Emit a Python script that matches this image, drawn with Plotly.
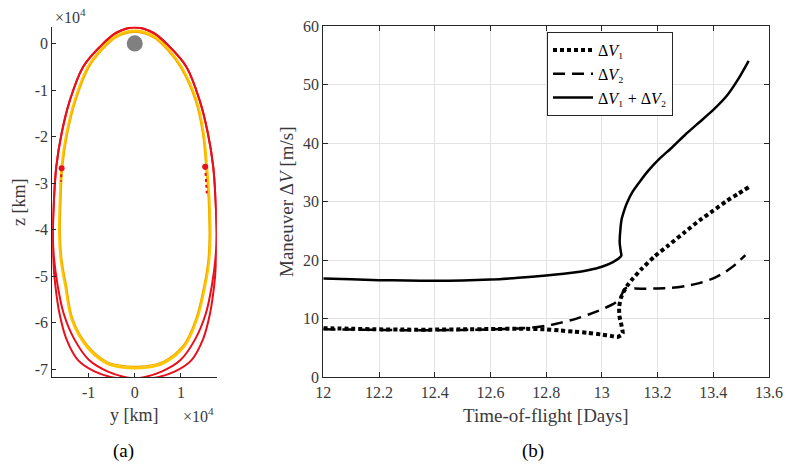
import plotly.graph_objects as go

# ---------------- panel (b) data ----------------
tof_dv1 = [12.0, 12.1, 12.2, 12.3, 12.4, 12.5, 12.6, 12.7, 12.8, 12.85, 12.9, 12.95, 13.0, 13.03,
           13.055, 13.07, 13.075, 13.07, 13.063, 13.062, 13.068, 13.078, 13.09, 13.11, 13.14,
           13.19, 13.24, 13.30, 13.35, 13.40, 13.45, 13.49, 13.527]
dv1 = [8.4, 8.3, 8.2, 8.15, 8.15, 8.2, 8.25, 8.3, 8.2, 8.0, 7.8, 7.6, 7.3, 7.1,
       6.9, 7.2, 7.6, 9.0, 10.5, 12.0, 13.5, 14.6, 15.6, 16.8, 18.4,
       20.7, 22.6, 24.9, 26.8, 28.5, 30.2, 31.4, 32.5]

tof_dv2 = [12.0, 12.1, 12.2, 12.3, 12.4, 12.5, 12.6, 12.7, 12.75, 12.8, 12.85, 12.9, 12.95,
           13.0, 13.04, 13.06, 13.072, 13.08, 13.09, 13.12, 13.16, 13.2, 13.25, 13.3, 13.35,
           13.4, 13.44, 13.48, 13.515]
dv2 = [8.2, 8.15, 8.1, 8.05, 8.05, 8.1, 8.2, 8.35, 8.5, 8.8, 9.3, 9.9, 10.7,
       11.6, 12.5, 13.2, 14.2, 15.0, 15.3, 15.2, 15.15, 15.2, 15.3, 15.6, 16.1,
       16.9, 17.9, 19.3, 20.9]

tof_tot = [12.0, 12.1, 12.2, 12.3, 12.4, 12.5, 12.6, 12.7, 12.8, 12.9, 12.95, 13.0, 13.04,
           13.06, 13.07, 13.068, 13.064, 13.066, 13.071, 13.08, 13.09, 13.11, 13.14, 13.17,
           13.21, 13.25, 13.30, 13.35, 13.40, 13.45, 13.49, 13.527]
dv_tot = [16.9, 16.75, 16.6, 16.55, 16.5, 16.55, 16.7, 17.0, 17.4, 17.9, 18.3, 18.9, 19.7,
          20.3, 20.8, 21.5, 23.0, 25.0, 27.0, 28.5, 29.8, 31.7, 33.7, 35.5,
          37.5, 39.2, 41.5, 43.6, 45.7, 48.2, 51.0, 54.1]

b_xticks = [12, 12.2, 12.4, 12.6, 12.8, 13, 13.2, 13.4, 13.6]
b_xticktext = ["12", "12.2", "12.4", "12.6", "12.8", "13", "13.2", "13.4", "13.6"]
b_yticks = [0, 10, 20, 30, 40, 50, 60]

# ---------------- panel (a) data (km) ----------------
red_a_y = [17500, 17750, 17700, 17200, 16300, 14800, 12300, 8600, 5000, 1500,
           -2000, -5800, -9900, -13100, -15400, -16700, -17500, -17750, -17500, -17000,
           -15840, -14040, -11170, -7560, -4000, 0, 4000, 7560, 11170, 14040, 15840,
           17000, 17500, 17750]
red_a_z = [-33600, -40800, -46000, -52000, -58000, -63500, -68000, -70500, -71700, -72100,
           -71700, -70500, -68000, -63500, -58000, -52000, -46000, -40800, -33600, -26500,
           -19300, -12170, -5000, -730, 2300, 3430, 2300, -730, -5000, -12170, -19300,
           -26500, -33600, -40800]
red_b_y = [-v for v in red_a_y]
red_b_z = list(red_a_z)

yel_y = [16150, 16350, 16100, 15200, 13400, 10700, 6200, 2500, 0, -2500, -6100, -10400,
         -13600, -15000, -16000, -16350, -16200, -15840, -14760, -12960, -10100, -7200,
         -4000, 0, 4000, 7200, 10080, 13320, 14900, 15620, 16150, 16350]
yel_z = [-33600, -40800, -46500, -52200, -59400, -65100, -68700, -69600, -69750, -69600,
         -68700, -65100, -59400, -52200, -46500, -40800, -33600, -26500, -19300, -12170,
         -5000, -1200, 1600, 2700, 1600, -1200, -5000, -12170, -19300, -26500, -33600,
         -40800]
yel2_y = [v * 0.985 for v in yel_y]
yel2_z = [v * 0.99 - 300 for v in yel_z]

moon_radius = 1737
node_y = [-15840, 15250]
node_z = [-26800, -26500]
arc_left_y = [-15840, -15950, -16000]
arc_left_z = [-26800, -28200, -29700]
arc_right_y = [15250, 15450, 15600]
arc_right_z = [-26500, -29300, -32200]

a_xticks = [-10000, 0, 10000]
a_xticktext = ["-1", "0", "1"]
a_yticks = [0, -10000, -20000, -30000, -40000, -50000, -60000, -70000]
a_yticktext = ["0", "-1", "-2", "-3", "-4", "-5", "-6", "-7"]

W, H = 787, 466
FONT = "Liberation Serif, DejaVu Serif, serif"
TICKC = "#3a3a3a"
AXC = "#262626"


def px(x):
    return x / W


def py(y):
    return 1 - y / H


fig = go.Figure()

# ---- panel (a) traces ----
YEL1 = "#FFC600"
YEL2 = "#F2AE00"
RED = "#E8101A"
fig.add_trace(go.Scatter(x=yel_y, y=yel_z, mode="lines", line=dict(color=YEL1, width=2.6, shape="spline"),
                         showlegend=False, xaxis="x", yaxis="y"))
fig.add_trace(go.Scatter(x=yel2_y, y=yel2_z, mode="lines", line=dict(color=YEL2, width=1.2, shape="spline"),
                         showlegend=False, xaxis="x", yaxis="y"))
fig.add_trace(go.Scatter(x=red_a_y, y=red_a_z, mode="lines", line=dict(color=RED, width=2, shape="spline"),
                         showlegend=False, xaxis="x", yaxis="y"))
fig.add_trace(go.Scatter(x=red_b_y, y=red_b_z, mode="lines", line=dict(color=RED, width=2, shape="spline"),
                         showlegend=False, xaxis="x", yaxis="y"))
for ay, az in [(arc_left_y, arc_left_z), (arc_right_y, arc_right_z)]:
    fig.add_trace(go.Scatter(x=ay, y=az, mode="lines", line=dict(color=RED, width=2, dash="3px,3px"),
                             showlegend=False, xaxis="x", yaxis="y"))
fig.add_trace(go.Scatter(x=node_y, y=node_z, mode="markers", marker=dict(color=RED, size=6),
                         showlegend=False, xaxis="x", yaxis="y"))

# ---- panel (b) traces ----
lbl1 = "Δ<i>V</i>₁"
lbl2 = "Δ<i>V</i>₂"
lbl3 = "Δ<i>V</i>₁ + Δ<i>V</i>₂"
fig.add_trace(go.Scatter(x=tof_dv1, y=dv1, mode="lines", name=lbl1,
                         line=dict(color="black", width=4, dash="4px,3px", shape="spline", smoothing=0.5),
                         xaxis="x2", yaxis="y2"))
fig.add_trace(go.Scatter(x=tof_dv2, y=dv2, mode="lines", name=lbl2,
                         line=dict(color="black", width=2.5, dash="12px,7px", shape="spline", smoothing=0.5),
                         xaxis="x2", yaxis="y2"))
fig.add_trace(go.Scatter(x=tof_tot, y=dv_tot, mode="lines", name=lbl3,
                         line=dict(color="black", width=2.5, shape="spline", smoothing=0.6),
                         xaxis="x2", yaxis="y2"))

TF = dict(family=FONT, size=16, color=TICKC)
fig.update_layout(
    width=W, height=H, margin=dict(l=0, r=0, t=0, b=0, autoexpand=False),
    paper_bgcolor="white", plot_bgcolor="white",
    font=dict(family=FONT, size=16, color=TICKC),
    xaxis=dict(domain=[px(52.3), px(216.7)], range=[-17860, 17750], tickvals=a_xticks,
               ticktext=a_xticktext, showgrid=False, zeroline=False, showline=True,
               linecolor=AXC, linewidth=1, ticks="inside", ticklen=4, tickcolor=AXC,
               tickfont=TF, anchor="y", automargin=False),
    yaxis=dict(domain=[py(377.3), py(26.7)], range=[-71700, 3600], tickvals=a_yticks,
               ticktext=a_yticktext, showgrid=False, zeroline=False, showline=True,
               linecolor=AXC, linewidth=1, ticks="inside", ticklen=4, tickcolor=AXC,
               tickfont=TF, anchor="x", automargin=False),
    xaxis2=dict(domain=[px(323.3), px(769)], range=[12, 13.6], tickvals=b_xticks,
                ticktext=b_xticktext, showgrid=True, gridcolor="#e3e3e3", gridwidth=1,
                zeroline=False, showline=True, mirror="ticks", linecolor=AXC, linewidth=1,
                ticks="inside", ticklen=5, tickcolor=AXC, tickfont=TF, anchor="y2",
                automargin=False),
    yaxis2=dict(domain=[py(377.3), py(26.3)], range=[0, 60], tickvals=b_yticks,
                showgrid=True, gridcolor="#e3e3e3", gridwidth=1, zeroline=False, showline=True,
                mirror="ticks", linecolor=AXC, linewidth=1, ticks="inside", ticklen=5,
                tickcolor=AXC, tickfont=TF, anchor="x2", automargin=False),
    legend=dict(x=px(547), y=py(32), xanchor="left", yanchor="top", bgcolor="white",
                bordercolor="#262626", borderwidth=1, font=dict(family=FONT, size=16, color="black"),
                tracegroupgap=0, itemwidth=40),
    shapes=[dict(type="circle", xref="x", yref="y", x0=-moon_radius, x1=moon_radius,
                 y0=-moon_radius, y1=moon_radius, fillcolor="#808080", line=dict(width=0))],
)

ann = [
    dict(text="×10<sup>4</sup>", x=px(53), y=py(16), xanchor="left", yanchor="middle"),
    dict(text="×10<sup>4</sup>", x=px(181), y=py(415), xanchor="left", yanchor="middle"),
    dict(text="y [km]", x=px(134), y=py(415), xanchor="center", yanchor="middle",
         font=dict(family=FONT, size=18, color=TICKC)),
    dict(text="z [km]", x=px(19), y=py(203), xanchor="center", yanchor="middle", textangle=-90,
         font=dict(family=FONT, size=18, color=TICKC)),
    dict(text="Time-of-flight [Days]", x=px(546), y=py(415), xanchor="center", yanchor="middle",
         font=dict(family=FONT, size=19, color=TICKC)),
    dict(text="Maneuver Δ<i>V</i> [m/s]", x=px(286), y=py(202), xanchor="center", yanchor="middle",
         textangle=-90, font=dict(family=FONT, size=19, color=TICKC)),
    dict(text="(a)", x=px(123), y=py(451), xanchor="center", yanchor="middle",
         font=dict(family=FONT, size=19, color="black")),
    dict(text="(b)", x=px(533), y=py(451), xanchor="center", yanchor="middle",
         font=dict(family=FONT, size=19, color="black")),
]
for a in ann:
    a.setdefault("font", dict(family=FONT, size=16, color=TICKC))
    a.update(xref="paper", yref="paper", showarrow=False)
fig.update_layout(annotations=ann)

# remove the default page margin so the 787x466 figure fills the window exactly
fig.write_html("out.html", config={"displayModeBar": False},
               post_script="document.body.style.margin='0';document.body.style.overflow='hidden';")
